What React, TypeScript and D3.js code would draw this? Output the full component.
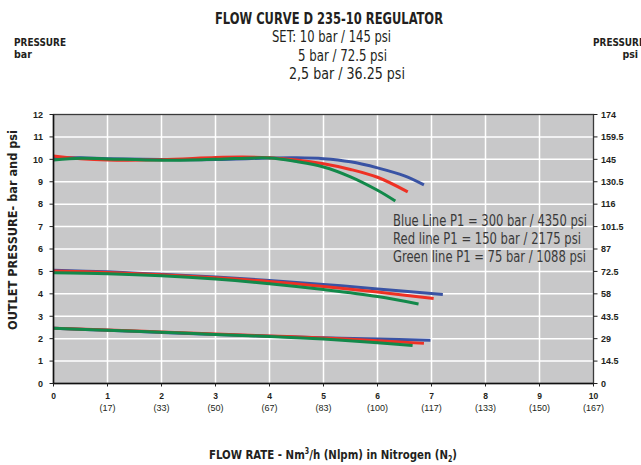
import React from "react";
import * as d3 from "d3";

const W = 641;
const H = 465;

// x in Nm3/h, y in bar
const blue10: [number, number][] = [[0,10.07],[0.5,10.07],[1,10.03],[2,9.99],[3,9.99],[4,10.06],[4.5,10.07],[5,10.03],[5.5,9.89],[6,9.62],[6.5,9.26],[6.86,8.86]];
const red10: [number, number][] = [[0,10.15],[0.5,10.03],[1,9.97],[2,9.98],[3,10.08],[3.5,10.1],[4,10.07],[4.5,9.97],[5,9.8],[5.5,9.55],[6,9.2],[6.56,8.55]];
const green10: [number, number][] = [[0,9.97],[0.5,10.05],[1,10.02],[2,9.96],[3,10.0],[4,10.06],[4.5,9.9],[5,9.66],[5.5,9.22],[6,8.62],[6.33,8.14]];

const blue5: [number, number][] = [[0,5.05],[1,4.98],[2,4.87],[3,4.75],[4,4.6],[5,4.42],[6,4.22],[7.21,3.97]];
const red5: [number, number][] = [[0,5.02],[1,4.95],[2,4.85],[3,4.72],[4,4.55],[5,4.33],[6,4.08],[7.04,3.79]];
const green5: [number, number][] = [[0,4.94],[1,4.9],[2,4.81],[3,4.66],[4,4.45],[5,4.19],[6,3.88],[6.76,3.55]];

const blue25: [number, number][] = [[0,2.46],[1,2.38],[2,2.28],[3,2.19],[4,2.11],[5,2.04],[6,1.98],[6.98,1.93]];
const red25: [number, number][] = [[0,2.46],[1,2.39],[2,2.3],[3,2.21],[4,2.12],[5,2.03],[6,1.91],[6.86,1.79]];
const green25: [number, number][] = [[0,2.46],[1,2.38],[2,2.29],[3,2.19],[4,2.1],[5,1.98],[6,1.82],[6.65,1.69]];

const barTicks = [0,1,2,3,4,5,6,7,8,9,10,11,12];
const psiLabels = ["0","14.5","29","43.5","58","72.5","87","101.5","116","130.5","145","159.5","174"];
const flowTicks = [0,1,2,3,4,5,6,7,8,9,10];
const nlpmLabels = ["","(17)","(33)","(50)","(67)","(83)","(100)","(117)","(133)","(150)","(167)"];

const titleLines = ["SET: 10 bar / 145 psi", "5 bar / 72.5 psi", "2,5 bar / 36.25 psi"];
const legendLines = [
  "Blue Line P1 = 300 bar / 4350 psi",
  "Red line P1 = 150 bar / 2175 psi",
  "Green line P1 = 75 bar / 1088 psi",
];

const BLUE = "#3953a4";
const RED = "#ee3124";
const GREEN = "#12894a";

const COND = "'Liberation Sans Narrow', 'DejaVu Sans Condensed', 'Roboto Condensed', sans-serif";
const ARIAL = "'Liberation Sans', Arial, sans-serif";

export default function App() {
  const x = d3.scaleLinear().domain([0, 10]).range([53.5, 593.5]);
  const y = d3.scaleLinear().domain([0, 12]).range([383.5, 114.5]);
  const line = d3
    .line<[number, number]>()
    .x((d) => x(d[0]))
    .y((d) => y(d[1]))
    .curve(d3.curveCatmullRom.alpha(0.5));

  const series: { data: [number, number][]; color: string }[] = [
    { data: blue10, color: BLUE },
    { data: red10, color: RED },
    { data: green10, color: GREEN },
    { data: blue5, color: BLUE },
    { data: red5, color: RED },
    { data: green5, color: GREEN },
    { data: blue25, color: BLUE },
    { data: red25, color: RED },
    { data: green25, color: GREEN },
  ];

  const titleX = [272, 298, 289];
  const titleW = [119, 89, 116];
  const titleY = [42, 61, 79];
  const legendW = [194, 188, 193];
  const legendY = [226, 244, 262];

  return (
    <svg width={W} height={H} style={{ position: "absolute", left: 0, top: 0, background: "#fff" }}>
      {/* Title block */}
      <text x={329} y={24} textAnchor="middle" fontFamily={COND} fontWeight="bold" fontSize={16} fill="#231f20" textLength={228} lengthAdjust="spacingAndGlyphs">
        FLOW CURVE D 235-10 REGULATOR
      </text>
      {titleLines.map((t, i) => (
        <text key={t} x={titleX[i]} y={titleY[i]} fontFamily={COND} fontSize={15} fill="#231f20" textLength={titleW[i]} lengthAdjust="spacingAndGlyphs">
          {t}
        </text>
      ))}
      <text x={14} y={46} fontFamily={COND} fontWeight="bold" fontSize={10.5} fill="#231f20" textLength={52} lengthAdjust="spacingAndGlyphs">PRESSURE</text>
      <text x={14} y={58} fontFamily={COND} fontWeight="bold" fontSize={10.5} fill="#231f20">bar</text>
      <text x={593} y={46} fontFamily={COND} fontWeight="bold" fontSize={10.5} fill="#231f20" textLength={52} lengthAdjust="spacingAndGlyphs">PRESSURE</text>
      <text x={638} y={58} textAnchor="end" fontFamily={COND} fontWeight="bold" fontSize={10.5} fill="#231f20">psi</text>

      {/* plot background */}
      <rect x={x(0)} y={y(12)} width={x(10) - x(0)} height={y(0) - y(12)} fill="#c8c8c9" />
      {/* grid */}
      {flowTicks.slice(1, -1).map((t) => (
        <line key={"gx" + t} x1={x(t)} x2={x(t)} y1={y(0)} y2={y(12)} stroke="#fff" strokeWidth={1.5} />
      ))}
      {barTicks.slice(1, -1).map((t) => (
        <line key={"gy" + t} x1={x(0)} x2={x(10)} y1={y(t)} y2={y(t)} stroke="#fff" strokeWidth={1.5} />
      ))}

      {/* curves */}
      {series.map((s, i) => (
        <path key={i} d={line(s.data) || ""} fill="none" stroke={s.color} strokeWidth={3} strokeLinecap="butt" />
      ))}

      {/* frame */}
      <rect x={x(0)} y={y(12)} width={x(10) - x(0)} height={y(0) - y(12)} fill="none" stroke="#3a3a3a" strokeWidth={1.3} />
      <line x1={x(0)} x2={x(10)} y1={y(0)} y2={y(0)} stroke="#111" strokeWidth={1.5} />
      <line x1={x(0)} x2={x(0)} y1={y(0)} y2={y(12)} stroke="#111" strokeWidth={1.5} />

      {/* left axis */}
      {barTicks.map((t) => (
        <g key={"l" + t}>
          <line x1={x(0) - 4} x2={x(0)} y1={y(t)} y2={y(t)} stroke="#222" strokeWidth={1} />
          <text x={43} y={y(t) + 3.3} textAnchor="end" fontFamily={ARIAL} fontWeight="bold" fontSize={9} fill="#231f20">{t}</text>
        </g>
      ))}
      {/* right axis */}
      {barTicks.map((t, i) => (
        <g key={"r" + t}>
          <line x1={x(10)} x2={x(10) + 4} y1={y(t)} y2={y(t)} stroke="#222" strokeWidth={1} />
          <text x={601} y={y(t) + 3.3} fontFamily={ARIAL} fontWeight="bold" fontSize={9} fill="#231f20">{psiLabels[i]}</text>
        </g>
      ))}
      {/* bottom axis */}
      {flowTicks.map((t, i) => (
        <g key={"b" + t}>
          <line x1={x(t)} x2={x(t)} y1={y(0)} y2={y(0) + 3} stroke="#222" strokeWidth={1} />
          <text x={x(t)} y={399} textAnchor="middle" fontFamily={ARIAL} fontWeight="bold" fontSize={8.5} fill="#231f20">{t}</text>
          <text x={x(t)} y={411} textAnchor="middle" fontFamily={ARIAL} fontSize={9} fill="#231f20">{nlpmLabels[i]}</text>
        </g>
      ))}

      {/* legend text */}
      {legendLines.map((t, i) => (
        <text key={t} x={393} y={legendY[i]} fontFamily={COND} fontSize={16} fill="#3a3a3a" textLength={legendW[i]} lengthAdjust="spacingAndGlyphs">
          {t}
        </text>
      ))}

      {/* axis titles */}
      <text transform="translate(17,230) rotate(-90)" textAnchor="middle" fontFamily={COND} fontWeight="bold" fontSize={13} fill="#231f20" textLength={200} lengthAdjust="spacingAndGlyphs">
        OUTLET PRESSURE- bar and psi
      </text>
      <text x={333} y={459} textAnchor="middle" fontFamily={COND} fontWeight="bold" fontSize={13} fill="#231f20" textLength={248} lengthAdjust="spacingAndGlyphs">
        FLOW RATE - Nm<tspan fontSize={8} dy={-5}>3</tspan><tspan dy={5}>/h (Nlpm) in Nitrogen (N</tspan><tspan fontSize={8} dy={3}>2</tspan><tspan dy={-3}>)</tspan>
      </text>
    </svg>
  );
}
